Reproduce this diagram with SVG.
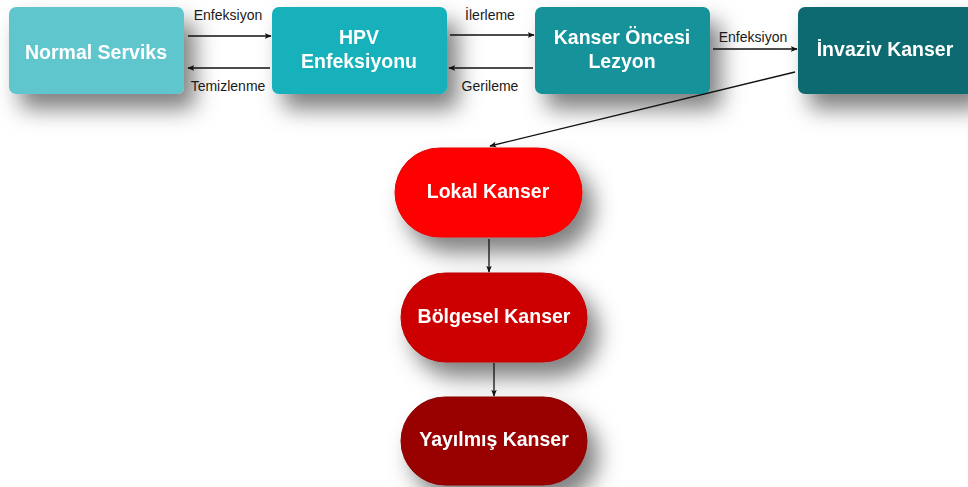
<svg xmlns="http://www.w3.org/2000/svg" width="968" height="487" viewBox="0 0 968 487">
<style>
.lbl{font-family:"Liberation Sans",Arial,sans-serif;font-weight:bold;font-size:19.5px;fill:#fff;text-anchor:middle}
.el{font-family:"Liberation Sans",Arial,sans-serif;font-size:14px;fill:#1a1a1a;text-anchor:middle}
.c{stroke:#111;stroke-width:1.3;fill:none;marker-end:url(#ah)}
.node{filter:url(#sh)}
</style>
<defs>
<filter id="sh" x="-30%" y="-40%" width="180%" height="220%">
<feDropShadow dx="11" dy="15" stdDeviation="11" flood-color="#000" flood-opacity="0.5"/>
</filter>
<marker id="ah" viewBox="0 0 10 10" refX="9" refY="5" markerWidth="7" markerHeight="7" orient="auto" markerUnits="userSpaceOnUse">
<path d="M0,1 L10,5 L0,9 L2.5,5 Z" fill="#111"/>
</marker>
</defs>
<rect width="968" height="487" fill="#fff"/>
<g id="n1" class="node"><rect x="9" y="7" width="175" height="87" rx="7" fill="#5FC6CE"/><text class="lbl" x="96" y="59">Normal Serviks</text></g>
<g id="n2" class="node"><rect x="272" y="7" width="175" height="87" rx="7" fill="#13B1BB"/><text class="lbl" x="359" y="44">HPV</text><text class="lbl" x="359" y="68">Enfeksiyonu</text></g>
<g id="n3" class="node"><rect x="535" y="7" width="175" height="87" rx="7" fill="#12929A"/><text class="lbl" x="622" y="44">Kanser Öncesi</text><text class="lbl" x="622" y="68">Lezyon</text></g>
<g id="n4" class="node"><rect x="798" y="7" width="176" height="87" rx="7" fill="#0E6B6F"/><text class="lbl" x="885" y="56">İnvaziv Kanser</text></g>
<g id="n5" class="node"><rect x="395" y="148" width="187" height="89" rx="44.5" fill="#FF0000" stroke="#E60000"/><text class="lbl" x="488" y="198">Lokal Kanser</text></g>
<g id="n6" class="node"><rect x="401" y="273" width="186" height="89" rx="44.5" fill="#CC0000" stroke="#B80000"/><text class="lbl" x="494" y="323">Bölgesel Kanser</text></g>
<g id="n7" class="node"><rect x="401" y="397" width="186" height="88" rx="44" fill="#990000" stroke="#880000"/><text class="lbl" x="494" y="446">Yayılmış Kanser</text></g>
<g id="connectors">
<line class="c" x1="188" y1="36" x2="271" y2="36"/>
<line class="c" x1="270" y1="68" x2="188" y2="68"/>
<line class="c" x1="450" y1="35" x2="534" y2="35"/>
<line class="c" x1="533" y1="68" x2="449" y2="68"/>
<line class="c" x1="713" y1="49" x2="797" y2="49"/>
<line class="c" x1="795" y1="72" x2="490" y2="146"/>
<line class="c" x1="489" y1="239" x2="489" y2="272"/>
<line class="c" x1="494" y1="363" x2="494" y2="396"/>
<text class="el" x="228" y="20">Enfeksiyon</text>
<text class="el" x="228" y="91">Temizlenme</text>
<text class="el" x="490" y="20">İlerleme</text>
<text class="el" x="490" y="91">Gerileme</text>
<text class="el" x="753" y="42">Enfeksiyon</text>
</g>
</svg>
